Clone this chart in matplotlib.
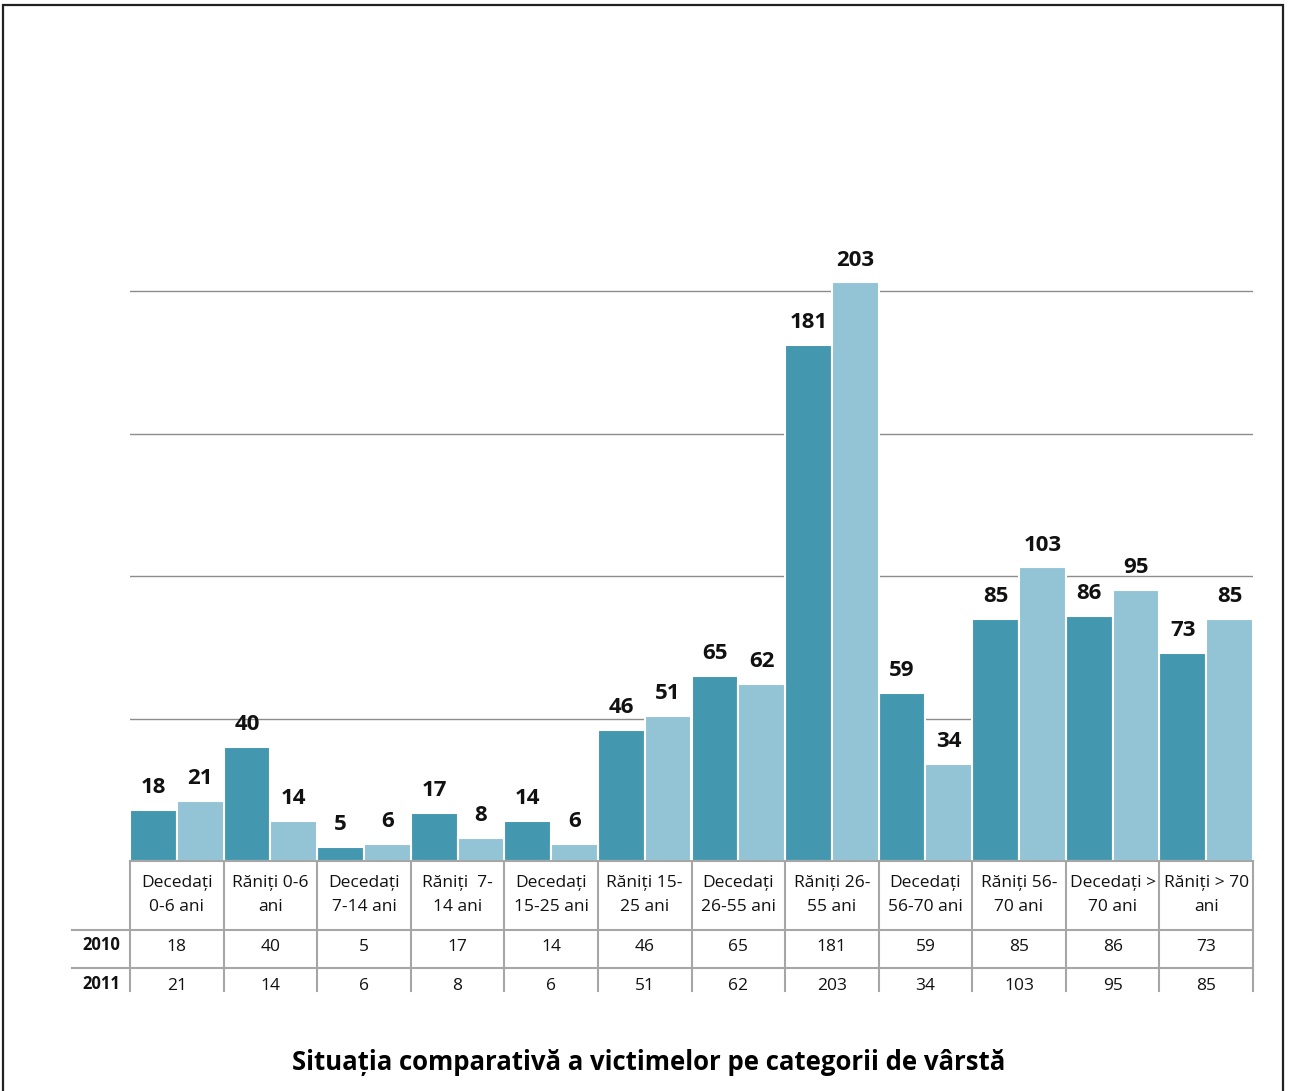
import matplotlib
matplotlib.use("Agg")
import matplotlib.pyplot as plt
from matplotlib.patches import Rectangle
import numpy as np

plt.rcParams['font.family'] = ['Open Sans', 'DejaVu Sans']

categories = ["Decedați\n0-6 ani", "Răniți 0-6\nani", "Decedați\n7-14 ani", "Răniți  7-\n14 ani",
              "Decedați\n15-25 ani", "Răniți 15-\n25 ani", "Decedați\n26-55 ani", "Răniți 26-\n55 ani",
              "Decedați\n56-70 ani", "Răniți 56-\n70 ani", "Decedați >\n70 ani", "Răniți > 70\nani"]
series_names = ["2010", "2011"]
values_2010 = [18, 40, 5, 17, 14, 46, 65, 181, 59, 85, 86, 73]
values_2011 = [21, 14, 6, 8, 6, 51, 62, 203, 34, 103, 95, 85]
gridlines = [50, 100, 150, 200]
title = "Situația comparativă a victimelor pe categorii de vârstă"

C2010 = "#4398b0"
C2011 = "#93c4d5"

W, H = 1290, 1091
fig = plt.figure(figsize=(W / 100, H / 100), dpi=100)

def px_rect(x0, y0, x1, y1):
    return [x0 / W, 1 - y1 / H, (x1 - x0) / W, (y1 - y0) / H]

# main chart axes: x 130..1253 px, y baseline 861
ymax = 215
ax = fig.add_axes(px_rect(130, 861 - ymax * 2.85, 1253, 861))
n = len(categories)
x = np.arange(n)
ax.bar(x + 0.25, values_2010, width=0.5, color=C2010, edgecolor="white", linewidth=1.5, zorder=3)
ax.bar(x + 0.75, values_2011, width=0.5, color=C2011, edgecolor="white", linewidth=1.5, zorder=3)
for xi, v in zip(x + 0.25, values_2010):
    ax.annotate(str(v), (xi, v), xytext=(0, 8.5), textcoords="offset points", ha="center", va="bottom",
                fontsize=16, fontweight="bold", color="#111111", annotation_clip=False, zorder=5)
for xi, v in zip(x + 0.75, values_2011):
    ax.annotate(str(v), (xi, v), xytext=(0, 8.5), textcoords="offset points", ha="center", va="bottom",
                fontsize=16, fontweight="bold", color="#111111", annotation_clip=False, zorder=5)
for g in gridlines:
    ax.axhline(g, color="#8c8c8c", linewidth=1, zorder=1)
ax.set_xlim(0, n)
ax.set_ylim(0, ymax)
ax.axis("off")

# table axes: x 72..1253 px, y 861..991 px
units_per_px = n / (1253 - 130)
xleft = -(130 - 72) * units_per_px
tax = fig.add_axes(px_rect(72, 861, 1253, 991))
tax.set_xlim(xleft, n)
tax.set_ylim(991, 861)
tax.axis("off")
gc = "#a6a6a6"
tax.plot([0, n], [861, 861], color=gc, lw=1.5, clip_on=False)
for yy in (930, 968):
    tax.plot([xleft, n], [yy, yy], color=gc, lw=1.5, clip_on=False)
for i in range(n + 1):
    tax.plot([i, i], [861, 991], color=gc, lw=1.5, clip_on=False)
for i, lab in enumerate(categories):
    tax.text(i + 0.5, 895, lab, ha="center", va="center", fontsize=12.5, color="#111111",
             linespacing=1.7)
    tax.text(i + 0.5, 947, str(values_2010[i]), ha="center", va="center", fontsize=12.5, color="#111111")
    tax.text(i + 0.5, 986, str(values_2011[i]), ha="center", va="center", fontsize=12.5, color="#111111",
             clip_on=True)
tax.text(xleft / 2, 945, series_names[0], ha="center", va="center", fontsize=12, fontweight="bold",
         color="#111111")
tax.text(xleft / 2, 984, series_names[1], ha="center", va="center", fontsize=12, fontweight="bold",
         color="#111111", clip_on=True)

fig.text(649 / W, 1 - 1063 / H, title, ha="center", va="center", fontsize=18.5, fontweight="bold",
         color="#000000")

# outer frame
fig.patches.append(Rectangle((3 / W, -0.05), (1283 - 3) / W, 1.05 - 5 / H, transform=fig.transFigure,
                             fill=False, edgecolor="#222222", linewidth=1.6))

fig.savefig("out.png", dpi=100)
